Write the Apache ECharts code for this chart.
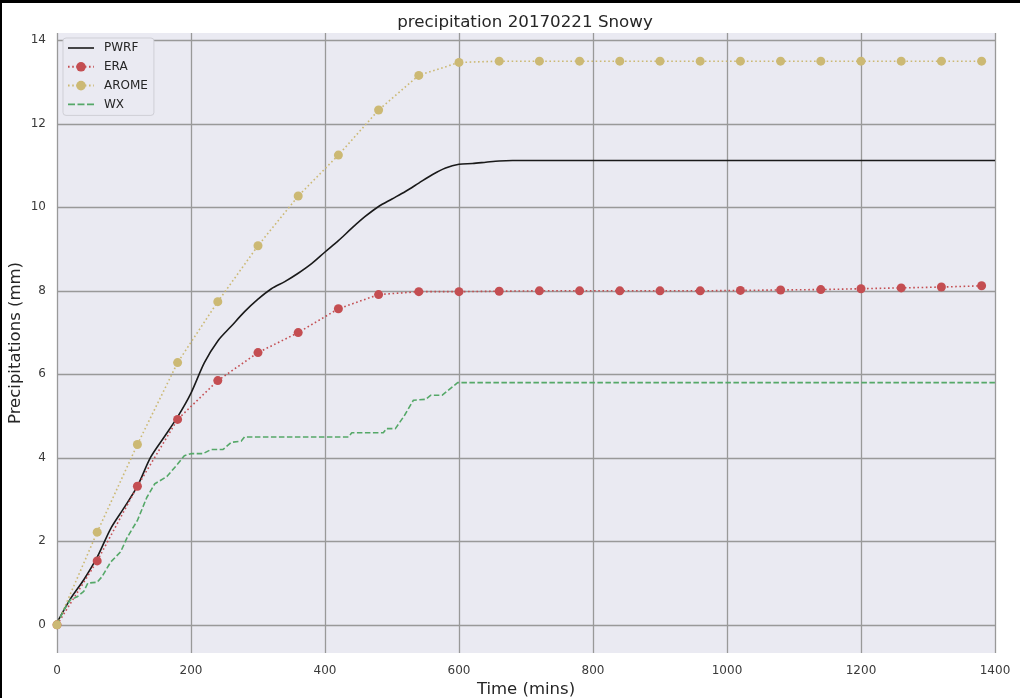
<html><head>
<meta charset="UTF-8">
<title>precipitation 20170221 Snowy</title>
<style>
  body { margin: 0; background: #fff; }
  #chart { position: absolute; left: 0; top: 0; width: 1020px; height: 698px; }
  .edge { position: absolute; background: #000; }
</style>
</head>
<body>
<div id="chart"></div>
<div class="edge" style="left:0;top:0;width:1020px;height:3px"></div>
<div class="edge" style="left:0;top:0;width:2px;height:698px"></div>
<script src="https://cdn.jsdelivr.net/npm/echarts@6/dist/echarts.min.js"></script>
<script>
// values
const pwrfTime = [0, 20, 40, 60, 80, 100, 120, 140, 160, 180, 200, 220, 240, 260, 280, 300, 320, 340, 360, 380, 400,
  420, 440, 460, 480, 500, 520, 540, 560, 580, 600, 620, 640, 660, 680, 700, 800, 1000, 1200, 1400];
const pwrfValues = [0.05, 0.62, 1.08, 1.62, 2.3, 2.8, 3.32, 4.02, 4.5, 4.98, 5.55, 6.28, 6.8, 7.15, 7.5, 7.8, 8.05, 8.22, 8.42, 8.65, 8.93,
  9.2, 9.5, 9.78, 10.02, 10.2, 10.38, 10.58, 10.78, 10.94, 11.03, 11.05, 11.08, 11.11, 11.12, 11.12, 11.12, 11.12, 11.12, 11.12];

const modelTime = [0, 60, 120, 180, 240, 300, 360, 420, 480, 540, 600, 660, 720, 780, 840, 900, 960, 1020, 1080, 1140, 1200, 1260, 1320, 1380];
const eraValues = [0, 1.53, 3.32, 4.92, 5.85, 6.52, 7.0, 7.57, 7.91, 7.98, 7.98, 7.99, 8.0, 8.0, 8.0, 8.0, 8.0, 8.01, 8.02, 8.03, 8.05, 8.07, 8.09, 8.12];
const aromeValues = [0, 2.22, 4.32, 6.28, 7.74, 9.08, 10.27, 11.25, 12.33, 13.16, 13.47, 13.5, 13.5, 13.5, 13.5, 13.5, 13.5, 13.5, 13.5, 13.5, 13.5, 13.5, 13.5, 13.5];

const wxTime = [0, 10, 20, 30, 40, 46, 60, 67, 80, 95, 105, 120, 134, 146, 164, 180, 190, 200, 218, 230, 248, 260, 275, 280,
  435, 440, 487, 492, 505, 518, 532, 550, 558, 575, 598, 1400];
const wxValues = [0, 0.35, 0.6, 0.67, 0.8, 1.0, 1.02, 1.15, 1.5, 1.75, 2.1, 2.5, 3.05, 3.38, 3.55, 3.85, 4.05, 4.1, 4.1, 4.2, 4.2, 4.37, 4.4, 4.5,
  4.5, 4.6, 4.6, 4.7, 4.7, 5.0, 5.38, 5.4, 5.5, 5.5, 5.8, 5.8];

const yTicks = [0, 2, 4, 6, 8, 10, 12, 14];

function pairs(xs, ys) {
  return xs.map((x, i) => [x, ys[i]]);
}

// legend icons for the lines without markers
const solidIcon = 'path://M0,0 L26,0 L26,1.6 L0,1.6 Z';
const dashIcon = 'path://M0,0 L7,0 L7,1.6 L0,1.6 Z M9.5,0 L16.5,0 L16.5,1.6 L9.5,1.6 Z M19,0 L26,0 L26,1.6 L19,1.6 Z';

const chart = echarts.init(document.getElementById('chart'));
const font = 'DejaVu Sans';

chart.setOption({
  animation: false,
  title: {
    text: 'precipitation 20170221 Snowy',
    left: 520, top: 9, textAlign: 'center',
    textStyle: { fontFamily: font, fontSize: 16.7, fontWeight: 'normal', color: '#262626' }
  },
  grid: {
    left: 57, right: 25, top: 33, bottom: 45,
    outerBoundsMode: 'none', containLabel: false,
    show: true, backgroundColor: '#EAEAF2', borderWidth: 0
  },
  legend: {
    orient: 'vertical', left: 63, top: 38,
    padding: [4, 6, 5, 4],
    backgroundColor: '#EAEAF2', borderColor: '#cfcfd6', borderWidth: 1, borderRadius: 3,
    itemWidth: 26, itemHeight: 12, itemGap: 6.8, symbolKeepAspect: true,
    textStyle: { fontFamily: font, fontSize: 12, color: '#262626', padding: [0, 0, 0, 5] },
    data: [
      { name: 'PWRF', icon: solidIcon },
      { name: 'ERA' },
      { name: 'AROME' },
      { name: 'WX', icon: dashIcon }
    ]
  },
  xAxis: {
    type: 'value', min: 0, max: 1400, interval: 200,
    name: 'Time (mins)', nameLocation: 'middle', nameGap: 28, nameMoveOverlap: false,
    nameTextStyle: { fontFamily: font, fontSize: 16.5, color: '#262626' },
    axisLine: { show: false }, axisTick: { show: false },
    axisLabel: { fontFamily: font, fontSize: 12, color: '#3a3a3a', margin: 12, formatter: v => String(v) },
    splitLine: { show: true, lineStyle: { color: '#999', width: 1.3 } }
  },
  yAxis: {
    type: 'value', min: -0.675, max: 14.175,
    name: 'Precipitations (mm)', nameLocation: 'middle', nameGap: 33, nameMoveOverlap: false,
    nameTextStyle: { fontFamily: font, fontSize: 16.5, color: '#262626' },
    axisLine: { show: false },
    axisTick: { show: false, customValues: yTicks },
    axisLabel: { fontFamily: font, fontSize: 12, color: '#3a3a3a', margin: 11, customValues: yTicks },
    splitLine: { show: true, lineStyle: { color: '#999', width: 1.3 } }
  },
  series: [
    {
      name: 'PWRF', type: 'line', data: pairs(pwrfTime, pwrfValues),
      smooth: 0.3, symbol: 'none', color: '#1a1a1a', symbolKeepAspect: true,
      lineStyle: { width: 1.6, color: '#1a1a1a' }
    },
    {
      name: 'ERA', type: 'line', data: pairs(modelTime, eraValues),
      symbol: 'circle', symbolSize: 9, color: '#C44E52',
      itemStyle: { color: '#C44E52' },
      lineStyle: { width: 1.6, type: [1.6, 2.6], color: '#C44E52' }
    },
    {
      name: 'AROME', type: 'line', data: pairs(modelTime, aromeValues),
      symbol: 'circle', symbolSize: 9, color: '#CCB974',
      itemStyle: { color: '#CCB974' },
      lineStyle: { width: 1.6, type: [1.6, 2.6], color: '#CCB974' }
    },
    {
      name: 'WX', type: 'line', data: pairs(wxTime, wxValues),
      symbol: 'none', color: '#55A868', symbolKeepAspect: true,
      lineStyle: { width: 1.6, type: [5.5, 2.5], color: '#55A868' }
    }
  ]
});
</script>
</body></html>
